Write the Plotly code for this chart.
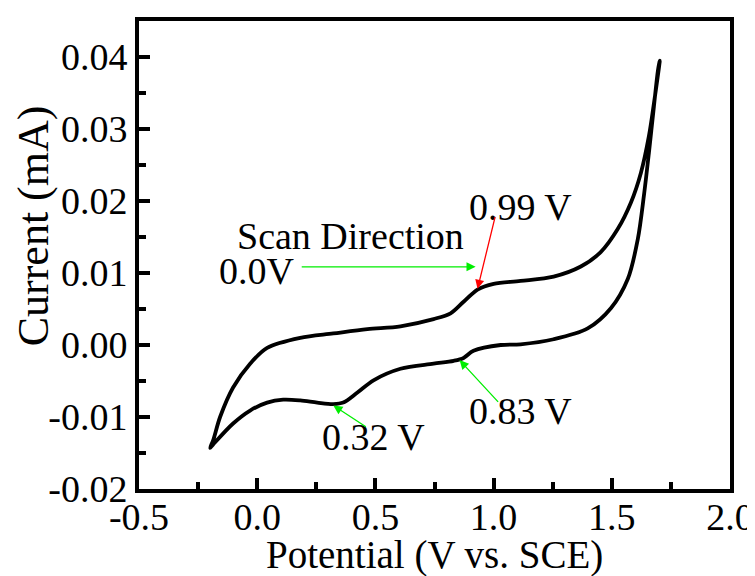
import plotly.graph_objects as go

# Anodic (forward) branch: potential (V) and current (mA)
fwd_potential = [-0.199, -0.186, -0.157, -0.102, -0.030, 0.042, 0.182, 0.322, 0.466, 0.606, 0.746,
                 0.818, 0.873, 0.932, 1.000, 1.114, 1.254, 1.369, 1.453, 1.525, 1.581,
                 1.623, 1.657, 1.678, 1.703]
fwd_current = [-0.0143, -0.0132, -0.0100, -0.0059, -0.0026, -0.0004, 0.0010, 0.0016, 0.0022, 0.0026, 0.0036,
               0.0044, 0.0060, 0.0077, 0.0085, 0.0089, 0.0095, 0.0109, 0.0129, 0.0161, 0.0198,
               0.0239, 0.0290, 0.0335, 0.0395]

# Cathodic (reverse) branch
rev_potential = [1.703, 1.695, 1.678, 1.657, 1.636, 1.610, 1.568, 1.496, 1.398, 1.254, 1.114,
                 1.030, 0.915, 0.873, 0.831, 0.746, 0.606, 0.492, 0.424, 0.364, 0.322,
                 0.254, 0.182, 0.110, 0.042, -0.030, -0.102, -0.186, -0.199]
rev_current = [0.0395, 0.0381, 0.0331, 0.0267, 0.0208, 0.0147, 0.0092, 0.0051, 0.0023, 0.0008, 0.0001,
               0.0000, -0.0008, -0.0018, -0.0022, -0.0026, -0.0033, -0.0049, -0.0066, -0.0080, -0.0082,
               -0.0080, -0.0077, -0.0076, -0.0080, -0.0091, -0.0109, -0.0138, -0.0143]

x_ticks = [-0.5, 0.0, 0.5, 1.0, 1.5, 2.0]
x_tick_labels = ["-0.5", "0.0", "0.5", "1.0", "1.5", "2.0"]
y_ticks = [-0.02, -0.01, 0.00, 0.01, 0.02, 0.03, 0.04]
y_tick_labels = ["-0.02", "-0.01", "0.00", "0.01", "0.02", "0.03", "0.04"]

FONT = "Liberation Serif, Times New Roman, serif"
GREEN = "#00ee00"
RED = "#ff0000"

fig = go.Figure()
fig.add_trace(go.Scatter(
    x=fwd_potential + rev_potential[1:],
    y=fwd_current + rev_current[1:],
    mode="lines",
    line=dict(color="black", width=3.8, shape="spline", smoothing=0.9),
    showlegend=False,
    hoverinfo="skip",
))

axis_common = dict(
    showline=True, linecolor="black", linewidth=4, mirror=True,
    ticks="inside", ticklen=11, tickwidth=3.5, tickcolor="black",
    showgrid=False, zeroline=False,
    tickfont=dict(family=FONT, size=38, color="black"),
)

fig.update_xaxes(range=[-0.5, 2.0], tickvals=x_ticks, ticktext=x_tick_labels,
                 ticklabelstandoff=-9,
                 minor=dict(ticks="inside", ticklen=7, tickwidth=3.5, tickcolor="black", dtick=0.25),
                 **axis_common)
fig.update_yaxes(range=[-0.02, 0.045], tickvals=y_ticks, ticktext=y_tick_labels,
                 minor=dict(ticks="inside", ticklen=7, tickwidth=3.5, tickcolor="black", dtick=0.005),
                 **axis_common)

annotations = []
# axis titles
annotations.append(dict(text="Potential (V vs. SCE)", xref="paper", yref="paper",
                        x=0.5, y=-0.142, xanchor="center", yanchor="middle", showarrow=False,
                        font=dict(family=FONT, size=39, color="black")))
annotations.append(dict(text="Current (mA)", xref="paper", yref="y",
                        x=-0.178, y=0.0166, xanchor="center", yanchor="middle", showarrow=False,
                        textangle=-90, font=dict(family=FONT, size=44, color="black")))

txt_font = dict(family=FONT, size=38, color="black")
for label, lx, ly in [("Scan Direction", 0.394, 0.0152), ("0.0V", 0.0, 0.0103),
                      ("0.99 V", 1.114, 0.0191), ("0.83 V", 1.114, -0.0091),
                      ("0.32 V", 0.492, -0.0128)]:
    annotations.append(dict(text=label, x=lx, y=ly, xref="x", yref="y", showarrow=False,
                            xanchor="center", yanchor="middle", font=txt_font))

# arrows: (tip_x, tip_y, tail_x, tail_y, color)
arrows = [
    (0.924, 0.01086, 0.182, 0.01086, GREEN),
    (0.932, 0.0078, 1.008, 0.0180, RED),
    (0.856, -0.0021, 1.025, -0.0081, GREEN),
    (0.322, -0.0084, 0.466, -0.0115, GREEN),
]
for tx, ty, sx, sy, col in arrows:
    annotations.append(dict(text="", x=tx, y=ty, ax=sx, ay=sy, xref="x", yref="y",
                            axref="x", ayref="y", showarrow=True, arrowhead=2,
                            arrowsize=1.4, arrowwidth=1.3, arrowcolor=col, standoff=0))

fig.update_layout(
    width=755, height=576,
    margin=dict(l=131, r=32, t=9, b=95),
    plot_bgcolor="white", paper_bgcolor="white",
    annotations=annotations,
)

fig.write_html("out.html")
